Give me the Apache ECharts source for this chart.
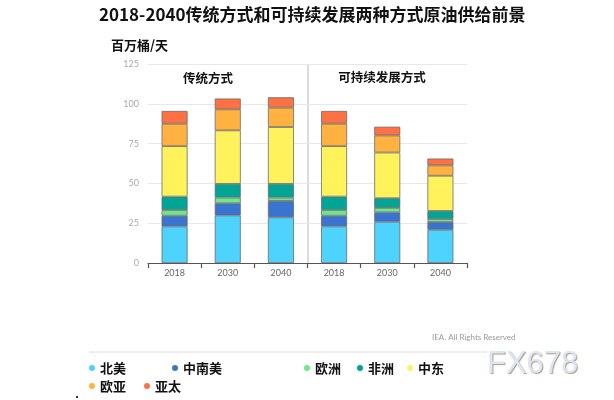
<!DOCTYPE html>
<html>
<head>
<meta charset="utf-8">
<script src="https://cdn.jsdelivr.net/npm/echarts@6/dist/echarts.min.js"></script>
<style>
html,body{margin:0;padding:0;background:#fff;}
#c{width:614px;height:400px;}
</style>
</head>
<body>
<div id="c"></div>
<script>
// ---- data ----
var scenarios = ['传统方式', '传统方式', '传统方式', '可持续发展方式', '可持续发展方式', '可持续发展方式'];
var years = ['2018', '2030', '2040', '2018', '2030', '2040'];
var seriesNames = ['北美', '中南美', '欧洲', '非洲', '中东', '欧亚', '亚太'];
var northAmerica = [23.0, 29.9, 28.7, 23.0, 25.9, 20.9];
var southCentralAmerica = [6.7, 7.6, 10.3, 6.7, 5.9, 4.8];
var europe = [3.6, 3.6, 2.1, 3.6, 2.8, 1.9];
var africa = [8.4, 8.6, 8.6, 8.4, 6.1, 5.1];
var middleEast = [31.7, 33.6, 35.7, 31.7, 28.7, 22.1];
var eurasia = [14.1, 13.2, 12.2, 14.1, 10.7, 6.5];
var asiaPacific = [8.0, 6.8, 6.5, 8.0, 5.5, 4.3];
var yTicks = [0, 25, 50, 75, 100, 125];

var values = [northAmerica, southCentralAmerica, europe, africa, middleEast, eurasia, asiaPacific];
var colors = ['#4dd3fd', '#3a74d1', '#6fe78b', '#00a596', '#fff25a', '#ffb23f', '#ff7043'];
var catKeys = scenarios.map(function (s, i) { return s + '|' + years[i]; });

var cjk = '"Noto Sans CJK SC", sans-serif';
var chart = echarts.init(document.getElementById('c'));

var legendPos = [
  [89, 361], [172, 361], [304, 361], [357, 361], [407, 361],
  [89, 379], [144, 379]
];
var legends = seriesNames.map(function (n, i) {
  return {
    data: [n],
    left: legendPos[i][0],
    top: legendPos[i][1],
    icon: 'circle',
    itemWidth: 6,
    itemHeight: 6,
    selectedMode: false,
    padding: 0,
    itemStyle: { borderWidth: 0 },
    textStyle: { fontFamily: cjk, fontSize: 13, fontWeight: 'bold', color: '#111', lineHeight: 14 }
  };
});

var series = seriesNames.map(function (n, i) {
  return {
    name: n,
    type: 'bar',
    stack: 'total',
    barWidth: 26,
    data: values[i],
    itemStyle: { color: colors[i], borderColor: '#6b6b6b', borderWidth: 0.8 },
    emphasis: { disabled: true }
  };
});

var graphics = [
  { type: 'text', left: 99, top: 6, style: { text: '2018-2040传统方式和可持续发展两种方式原油供给前景', font: 'bold 17px ' + cjk, fill: '#111' } },
  { type: 'text', left: 111, top: 39, style: { text: '百万桶/天', font: 'bold 13px ' + cjk, fill: '#111' } },
  { type: 'text', x: 208, y: 78, style: { text: '传统方式', font: 'bold 12.5px ' + cjk, fill: '#111', align: 'center', verticalAlign: 'middle' } },
  { type: 'text', x: 382, y: 77, style: { text: '可持续发展方式', font: 'bold 12.5px ' + cjk, fill: '#111', align: 'center', verticalAlign: 'middle' } },
  { type: 'text', x: 432, y: 337, style: { text: 'IEA. All Rights Reserved', font: '8px Lato, sans-serif', fill: '#999', verticalAlign: 'middle' } },
  { type: 'line', shape: { x1: 89, y1: 352, x2: 487, y2: 352 }, style: { stroke: '#eeeeee', lineWidth: 2 } },
  { type: 'rect', shape: { x: 76, y: 396, width: 2, height: 2 }, style: { fill: '#333' } },
  { type: 'text', x: 487, y: 364, style: { text: 'FX678', font: '31px "Liberation Sans", Arial, sans-serif', fill: '#d9e6f7', verticalAlign: 'middle', textShadowColor: '#b49a7a', textShadowOffsetX: 1, textShadowOffsetY: 1, textShadowBlur: 1 } }
];

chart.setOption({
  animation: false,
  backgroundColor: '#fff',
  color: colors,
  grid: { left: 148, right: 147, top: 64, bottom: 137 },
  legend: legends,
  xAxis: {
    type: 'category',
    data: catKeys,
    axisLine: { lineStyle: { color: '#555', width: 1.2 } },
    axisTick: { show: true, length: 5, lineStyle: { color: '#555', width: 1.2 } },
    axisLabel: {
      color: '#666', fontSize: 9, fontFamily: 'Lato, sans-serif', margin: 6,
      formatter: function (v) { return v.split('|')[1]; }
    }
  },
  yAxis: {
    type: 'value',
    min: yTicks[0],
    max: yTicks[yTicks.length - 1],
    interval: yTicks[1] - yTicks[0],
    axisLine: { show: false },
    axisTick: { show: false },
    axisLabel: { color: '#a8a8a8', fontSize: 9, fontFamily: 'Lato, sans-serif', margin: 9 },
    splitLine: { lineStyle: { color: '#e8e8e8', width: 1 } }
  },
  series: series,
  graphic: graphics
});

// divider between the two scenarios, located through the axis scales
var xa = chart.convertToPixel({ xAxisIndex: 0 }, catKeys[2]);
var xb = chart.convertToPixel({ xAxisIndex: 0 }, catKeys[3]);
var yTop = chart.convertToPixel({ yAxisIndex: 0 }, yTicks[yTicks.length - 1]);
var yBot = chart.convertToPixel({ yAxisIndex: 0 }, yTicks[0]);
var xd = Math.round((xa + xb) / 2);
graphics.push({ type: 'line', z: 0, shape: { x1: xd, y1: yTop, x2: xd, y2: yBot }, style: { stroke: '#cfcfcf', lineWidth: 1.5 } });
chart.setOption({ graphic: graphics });
</script>
</body>
</html>
